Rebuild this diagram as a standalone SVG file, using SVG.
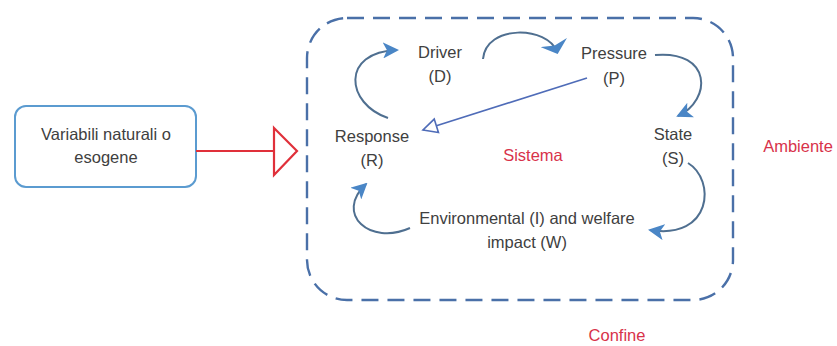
<svg xmlns="http://www.w3.org/2000/svg" width="837" height="346" viewBox="0 0 837 346">
  <style>
    .lbl { font-family: "Liberation Sans", Arial, sans-serif; font-size: 16.5px; fill: #404040; text-anchor: middle; }
    .red { font-family: "Liberation Sans", Arial, sans-serif; font-size: 16.5px; fill: #d8324a; text-anchor: middle; }
    .curve { fill: none; stroke: #4f6f90; stroke-width: 2; }
    .link { fill: none; stroke: #4f6cb8; stroke-width: 1.6; }
  </style>
  <defs>
    <marker id="solidHead" viewBox="0 0 16 16" refX="14" refY="8" markerWidth="16" markerHeight="16" markerUnits="userSpaceOnUse" orient="auto">
      <path d="M0,0 L16,8 L0,16 L4,8 Z" fill="#4a86c6"/>
    </marker>
    <marker id="flatHead" viewBox="0 0 12 28" refX="10" refY="14" markerWidth="12" markerHeight="28" markerUnits="userSpaceOnUse" orient="auto">
      <path d="M0,0 L12,14 L0,28 L3,14 Z" fill="#4a86c6"/>
    </marker>
    <marker id="openHead" viewBox="0 0 18 18" refX="16" refY="9" markerWidth="18" markerHeight="18" markerUnits="userSpaceOnUse" orient="auto">
      <path d="M2,2 L16,9 L2,16 Z" fill="#ffffff" stroke="#4f6cb8" stroke-width="1.6"/>
    </marker>
  </defs>

  <rect width="837" height="346" fill="#ffffff"/>

  <!-- system boundary -->
  <g id="boundary">
    <rect x="307" y="18" width="426" height="282" rx="40" ry="40" fill="none" stroke="#4a70a8" stroke-width="2.4" stroke-dasharray="17 9"/>
  </g>

  <!-- external driver box -->
  <g id="variabili">
    <rect x="15" y="106" width="181" height="81" rx="11" ry="11" fill="#ffffff" stroke="#5b9bd0" stroke-width="2"/>
    <text class="lbl" x="106" y="140">Variabili naturali o</text>
    <text class="lbl" x="106" y="163">esogene</text>
  </g>

  <g id="driver">
    <text class="lbl" x="440" y="58">Driver</text>
    <text class="lbl" x="440" y="82">(D)</text>
  </g>
  <g id="pressure">
    <text class="lbl" x="614" y="59">Pressure</text>
    <text class="lbl" x="614" y="84">(P)</text>
  </g>
  <g id="state">
    <text class="lbl" x="673" y="140">State</text>
    <text class="lbl" x="673" y="164">(S)</text>
  </g>
  <g id="response">
    <text class="lbl" x="372" y="142">Response</text>
    <text class="lbl" x="372" y="166">(R)</text>
  </g>
  <g id="impact">
    <text class="lbl" x="527" y="224">Environmental (I) and welfare</text>
    <text class="lbl" x="527" y="248">impact (W)</text>
  </g>

  <g id="labels">
    <text class="red" x="533" y="161">Sistema</text>
    <text class="red" x="798" y="152">Ambiente</text>
    <text class="red" x="617" y="341">Confine</text>
  </g>

  <g id="connectors">
    <!-- input from outside -->
    <line x1="196" y1="151" x2="274" y2="151" stroke="#e0303a" stroke-width="2"/>
    <path d="M274,128 L297,151 L274,175 Z" fill="#ffffff" stroke="#e0303a" stroke-width="2.2"/>

    <!-- DPSIR cycle -->
    <path class="curve" d="M388,118 C346,104 340,52 397,50" marker-end="url(#solidHead)"/>
    <path class="curve" d="M483,59 C486,24 548,26 557,52" marker-end="url(#flatHead)"/>
    <path class="curve" d="M655,55 C712,50 712,100 678,116" marker-end="url(#solidHead)"/>
    <path class="curve" d="M688,163 C716,180 712,240 650,230" marker-end="url(#solidHead)"/>
    <path class="curve" d="M410,228 C370,246 334,214 366,184" marker-end="url(#solidHead)"/>

    <!-- feedback from pressure to response -->
    <line class="link" x1="587" y1="78" x2="423" y2="130" marker-end="url(#openHead)"/>
  </g>
</svg>
